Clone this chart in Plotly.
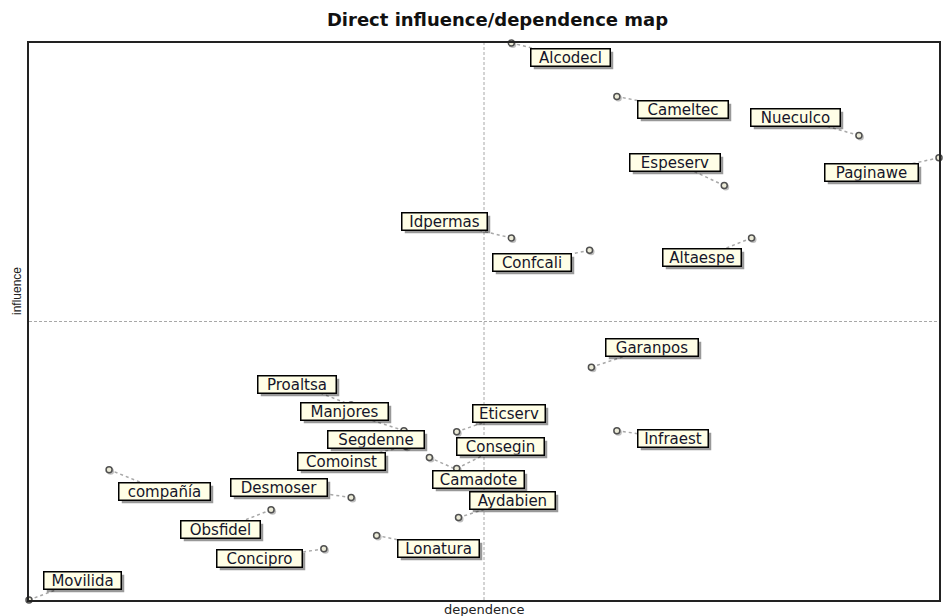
import plotly.graph_objects as go

# MICMAC style direct influence / dependence map
names = ['Alcodecl', 'Cameltec', 'Nueculco', 'Paginawe', 'Espeserv', 'Idpermas',
         'Confcali', 'Altaespe', 'Garanpos', 'Infraest', 'Proaltsa', 'Manjores',
         'Segdenne', 'Comoinst', 'Eticserv', 'Camadote', 'Consegin', 'Aydabien',
         'compañía', 'Desmoser', 'Obsfidel', 'Lonatura', 'Concipro', 'Movilida']
dependence = [36.5, 42.3, 55.6, 60.0, 48.2, 36.5,
              40.8, 49.7, 40.9, 42.3, 27.7, 30.6,
              30.6, 30.7, 33.5, 32.0, 33.5, 33.6,
              14.4, 27.7, 23.3, 29.1, 26.2, 10.0]
influence = [60.0, 55.2, 51.7, 49.7, 47.2, 42.5,
             41.4, 42.5, 30.9, 25.2, 27.5, 25.2,
             24.0, 23.8, 25.1, 22.8, 21.8, 17.4,
             21.7, 19.2, 18.1, 15.8, 14.6, 10.0]
mean_dep = 35.0
mean_inf = 35.0

# label placement (pixel offset of label centre from its point) and box widths
label_dx = [59, 66, -63, -68, -49, -67, -58, -50, 61, 56, -54, -59,
            -28, -64, 52, 49, 44, 54, 55, -72, -51, 62, -64, 53]
label_dy = [14, 13, -18, 15, -23, -16, 12, 20, -20, 8, -21, -19,
            -5, 15, -18, 22, -22, -17, 22, -10, 20, 13, 10, -20]
label_w = [81, 92, 91, 95, 92, 87, 80, 80, 94, 72, 80, 89,
           98, 89, 74, 93, 89, 87, 93, 98, 81, 83, 87, 79]

x_range = [10, 60]
y_range = [10, 60]
plot_w = 944 - 29 - 3
plot_h = 616 - 43 - 16
px_x = (x_range[1] - x_range[0]) / plot_w
px_y = (y_range[1] - y_range[0]) / plot_h

font = 'DejaVu Sans, Verdana, sans-serif'

fig = go.Figure()

# dotted leader lines
for x, y, dx, dy in zip(dependence, influence, label_dx, label_dy):
    fig.add_shape(type='line', xref='x', yref='y', layer='below',
                  x0=x, y0=y, x1=x + dx * px_x, y1=y - dy * px_y,
                  line=dict(color='#a8a8a8', width=1.5, dash='dot'))

# quadrant lines at the means
fig.add_shape(type='line', xref='x', yref='paper', x0=mean_dep, x1=mean_dep, y0=0, y1=1,
              layer='below', line=dict(color='#a8a8a8', width=1, dash='3px,2px'))
fig.add_shape(type='line', xref='paper', yref='y', x0=0, x1=1, y0=mean_inf, y1=mean_inf,
              layer='below', line=dict(color='#a8a8a8', width=1, dash='3px,2px'))

# point shadows then points
fig.add_trace(go.Scatter(
    x=[d + 1.5 * px_x for d in dependence], y=[i - 1.5 * px_y for i in influence],
    mode='markers', cliponaxis=False, hoverinfo='skip', showlegend=False,
    marker=dict(symbol='circle', size=7, color='rgba(0,0,0,0.25)', line=dict(width=0))))
fig.add_trace(go.Scatter(
    x=dependence, y=influence, mode='markers', cliponaxis=False,
    marker=dict(symbol='circle', size=6, color='#ecebd8',
                line=dict(color='#505050', width=1.5)),
    hovertext=names, showlegend=False))

# labels with a drop shadow
for x, y, n, dx, dy, w in zip(dependence, influence, names, label_dx, label_dy, label_w):
    fig.add_annotation(x=x, y=y, text=' ', showarrow=False, width=w - 3, height=16,
                       xshift=dx + 3, yshift=-dy - 3,
                       font=dict(family=font, size=15, color='rgba(0,0,0,0)'),
                       bgcolor='rgba(0,0,0,0.4)', bordercolor='rgba(0,0,0,0)',
                       borderwidth=1.5, borderpad=0)
    fig.add_annotation(x=x, y=y, text=n, showarrow=False, width=w - 3, height=16,
                       xshift=dx, yshift=-dy,
                       font=dict(family=font, size=15, color='#15152a'),
                       bgcolor='#fffee6', bordercolor='#000000',
                       borderwidth=1.5, borderpad=0)

# axis titles
fig.add_annotation(xref='paper', yref='paper', x=(485 - 29) / plot_w, y=0,
                   yanchor='top', yshift=0, text='dependence', showarrow=False,
                   font=dict(family=font, size=13, color='#222'))
fig.add_annotation(xref='paper', yref='paper', x=0, y=(600 - 291) / plot_h,
                   xshift=-12, xanchor='center', text='influence', textangle=-90,
                   showarrow=False,
                   font=dict(family='Liberation Sans Narrow, Liberation Sans, sans-serif',
                             size=12, color='#222'))

fig.update_layout(
    width=944, height=616,
    margin=dict(l=29, r=3, t=43, b=16),
    paper_bgcolor='white', plot_bgcolor='white',
    title=dict(text='<b>Direct influence/dependence map</b>', x=486 / 944,
               xanchor='center', xref='paper', yref='container', y=1 - 20 / 616,
               yanchor='middle', font=dict(family=font, size=18, color='#111')),
    xaxis=dict(range=x_range, showgrid=False, zeroline=False, showticklabels=False,
               ticks='', showline=True, mirror=True, linecolor='#222', linewidth=1.5),
    yaxis=dict(range=y_range, showgrid=False, zeroline=False, showticklabels=False,
               ticks='', showline=True, mirror=True, linecolor='#222', linewidth=1.5),
)

fig.write_html('out.html', config={'displayModeBar': False},
               post_script="document.body.style.margin='0';document.body.style.overflow='hidden';")
